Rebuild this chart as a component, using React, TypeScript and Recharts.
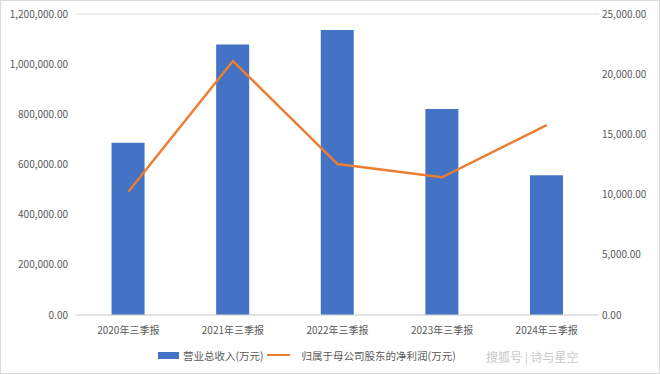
import React from 'react';
import { ComposedChart, Bar, Line, XAxis, YAxis, CartesianGrid } from 'recharts';

const categories = ['2020年三季报', '2021年三季报', '2022年三季报', '2023年三季报', '2024年三季报'];
const revenue = [687000, 1078000, 1136000, 821000, 557000]; // 营业总收入(万元)
const netProfit = [10240, 21090, 12540, 11440, 15780]; // 归属于母公司股东的净利润(万元)
const leftTicks = [0, 200000, 400000, 600000, 800000, 1000000, 1200000];
const rightTicks = [0, 5000, 10000, 15000, 20000, 25000];

const BLUE = '#4472C4';
const ORANGE = '#ED7D31';
const TEXT = '#595959';
const FONT = '"Noto Sans CJK SC", "Noto Sans", sans-serif';

const data = categories.map((name, i) => ({ name, revenue: revenue[i], netProfit: netProfit[i] }));

const fmt = (v: number) =>
  v.toLocaleString('en-US', { minimumFractionDigits: 2, maximumFractionDigits: 2 });

export default function App() {
  const tick = { fill: TEXT, fontSize: 10, fontFamily: FONT };
  return (
    <div
      style={{
        position: 'absolute',
        left: 0,
        top: 0,
        width: 660,
        height: 374,
        boxSizing: 'border-box',
        border: '1px solid #d9d9d9',
        background: '#fff',
        fontFamily: FONT,
      }}
    >
      <div style={{ position: 'absolute', left: -1, top: -1 }}>
        <ComposedChart
          width={660}
          height={374}
          data={data}
          margin={{ top: 14, right: 0, bottom: 0, left: 0 }}
          barCategoryGap="34%"
        >
          <CartesianGrid vertical={false} stroke="#d9d9d9" />
          <XAxis
            dataKey="name"
            height={59}
            tick={tick}
            tickLine={false}
            axisLine={{ stroke: '#d9d9d9' }}
            tickMargin={6}
            interval={0}
          />
          <YAxis
            yAxisId="left"
            width={76}
            domain={[0, 1200000]}
            ticks={leftTicks}
            tickFormatter={fmt}
            tick={tick}
            tickLine={false}
            tickSize={0}
            tickMargin={8}
            axisLine={false}
          />
          <YAxis
            yAxisId="right"
            orientation="right"
            width={61}
            domain={[0, 25000]}
            ticks={rightTicks}
            tickFormatter={fmt}
            tick={{ ...tick, textAnchor: 'start' }}
            tickLine={false}
            tickSize={0}
            tickMargin={3}
            axisLine={false}
          />
          <Bar yAxisId="left" dataKey="revenue" fill={BLUE} isAnimationActive={false} />
          <Line
            yAxisId="right"
            dataKey="netProfit"
            stroke={ORANGE}
            strokeWidth={2.5}
            dot={false}
            activeDot={false}
            isAnimationActive={false}
          />
        </ComposedChart>
      </div>
      <div
        style={{
          position: 'absolute',
          top: 346,
          left: 157,
          height: 16,
          display: 'flex',
          alignItems: 'center',
          fontSize: 10.5,
          color: TEXT,
          whiteSpace: 'nowrap',
        }}
      >
        <span style={{ display: 'inline-block', width: 21, height: 7, background: BLUE, marginRight: 4 }} />
        <span>营业总收入(万元)</span>
        <span style={{ display: 'inline-block', width: 23, height: 2.5, background: ORANGE, margin: '0 12px 0 3px' }} />
        <span>归属于母公司股东的净利润(万元)</span>
      </div>
      <div
        style={{
          position: 'absolute',
          top: 347,
          left: 485,
          fontSize: 12,
          color: '#c8c8c8',
          whiteSpace: 'nowrap',
        }}
      >
        搜狐号 | 诗与星空
      </div>
    </div>
  );
}
